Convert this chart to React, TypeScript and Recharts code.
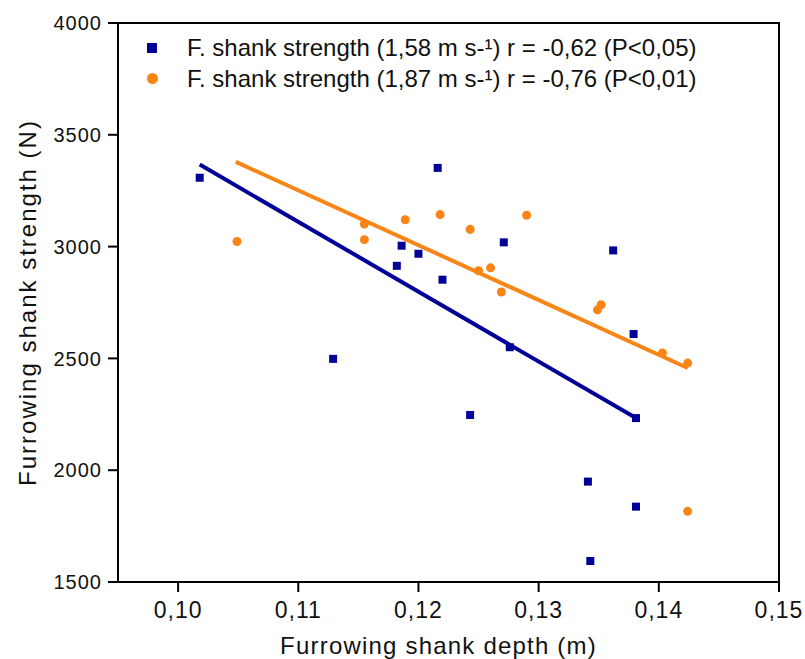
import {
  ScatterChart,
  Scatter,
  XAxis,
  YAxis,
  ZAxis,
  ReferenceLine,
  ReferenceArea,
  Legend,
} from "recharts";

// F. shank strength at 1,58 m s-1
const blueX = [0.1018, 0.1129, 0.1182, 0.1186, 0.12, 0.1216, 0.122, 0.1243, 0.1271, 0.1276, 0.1341, 0.1343, 0.1362, 0.1379, 0.1381, 0.1381];
const blueY = [3308, 2498, 2914, 3004, 2968, 3352, 2852, 2247, 3019, 2550, 1949, 1594, 2983, 2609, 2233, 1837];

// F. shank strength at 1,87 m s-1
const orangeX = [0.1049, 0.1155, 0.1155, 0.1189, 0.1218, 0.1243, 0.125, 0.126, 0.1269, 0.129, 0.1349, 0.1352, 0.1403, 0.1424, 0.1424];
const orangeY = [3023, 3101, 3031, 3120, 3143, 3077, 2892, 2905, 2797, 3140, 2717, 2740, 2524, 2479, 1816];

// fitted lines (start, end)
const blueFitX = [0.1018, 0.1381];
const blueFitY = [3367, 2233];
const orangeFitX = [0.1048, 0.1424];
const orangeFitY = [3379, 2457];

const xTicks = [0.1, 0.11, 0.12, 0.13, 0.14, 0.15];
const yTicks = [1500, 2000, 2500, 3000, 3500, 4000];

const legendLabels = [
  "F. shank strength (1,58 m s-¹) r = -0,62 (P<0,05)",
  "F. shank strength (1,87 m s-¹) r = -0,76 (P<0,01)",
];

const BLUE = "#000099";
const ORANGE = "#FA8517";
const INK = "#111";

const blueData = blueX.map((x, i) => ({ x, y: blueY[i] }));
const orangeData = orangeX.map((x, i) => ({ x, y: orangeY[i] }));
const blueFit = blueFitX.map((x, i) => ({ x, y: blueFitY[i] }));
const orangeFit = orangeFitX.map((x, i) => ({ x, y: orangeFitY[i] }));

const comma = (v: number) => v.toFixed(2).replace(".", ",");

function LegendBox() {
  return (
    <div style={{ fontSize: 24, color: INK, lineHeight: "31px" }}>
      <div style={{ display: "flex", alignItems: "center" }}>
        <span style={{ width: 10, height: 10, background: BLUE, marginRight: 30, marginLeft: 7 }} />
        {legendLabels[0]}
      </div>
      <div style={{ display: "flex", alignItems: "center" }}>
        <span style={{ width: 11, height: 11, borderRadius: 6, background: ORANGE, marginRight: 29, marginLeft: 7 }} />
        {legendLabels[1]}
      </div>
    </div>
  );
}

export default function App() {
  return (
    <div style={{ position: "absolute", left: 0, top: 0, fontFamily: "'Liberation Sans', Arial, sans-serif" }}>
      <ScatterChart width={805} height={659} margin={{ top: 23, right: 26, bottom: 7, left: 8 }}>
        <XAxis
          type="number"
          dataKey="x"
          domain={[0.095, 0.15]}
          ticks={xTicks}
          tickFormatter={comma}
          allowDataOverflow
          height={70}
          stroke="#000"
          strokeWidth={2}
          tickSize={10}
          tickMargin={10}
          tick={{ fill: INK, fontSize: 23, style: { letterSpacing: 1 } }}
          label={{
            value: "Furrowing shank depth (m)",
            position: "center",
            dx: -10,
            dy: 28,
            fill: INK,
            fontSize: 24,
            style: { letterSpacing: 1.2 },
          }}
        />
        <YAxis
          type="number"
          dataKey="y"
          domain={[1500, 4000]}
          ticks={yTicks}
          allowDataOverflow
          width={110}
          stroke="#000"
          strokeWidth={2}
          tickSize={10}
          tickMargin={6}
          tick={{ fill: INK, fontSize: 20, style: { letterSpacing: 1 } }}
          label={{
            value: "Furrowing shank strength (N)",
            angle: -90,
            position: "center",
            dx: -36,
            fill: INK,
            fontSize: 24,
            style: { letterSpacing: 2 },
          }}
        />
        <ZAxis range={[100, 100]} />
        <ReferenceArea x1={0.095} x2={0.15} y1={1500} y2={4000} fill="none" stroke="#000" strokeWidth={2} />
        <ReferenceLine segment={blueFit} stroke={BLUE} strokeWidth={4} />
        <ReferenceLine segment={orangeFit} stroke={ORANGE} strokeWidth={4} />
        <Scatter data={blueData} fill={BLUE} shape="square" isAnimationActive={false} />
        <Scatter data={orangeData} fill={ORANGE} shape="circle" isAnimationActive={false} />
        <Legend
          layout="horizontal"
          verticalAlign="middle"
          align="center"
          content={() => <LegendBox />}
          wrapperStyle={{ top: 32, left: 140, width: "auto", height: "auto" }}
        />
      </ScatterChart>
    </div>
  );
}
